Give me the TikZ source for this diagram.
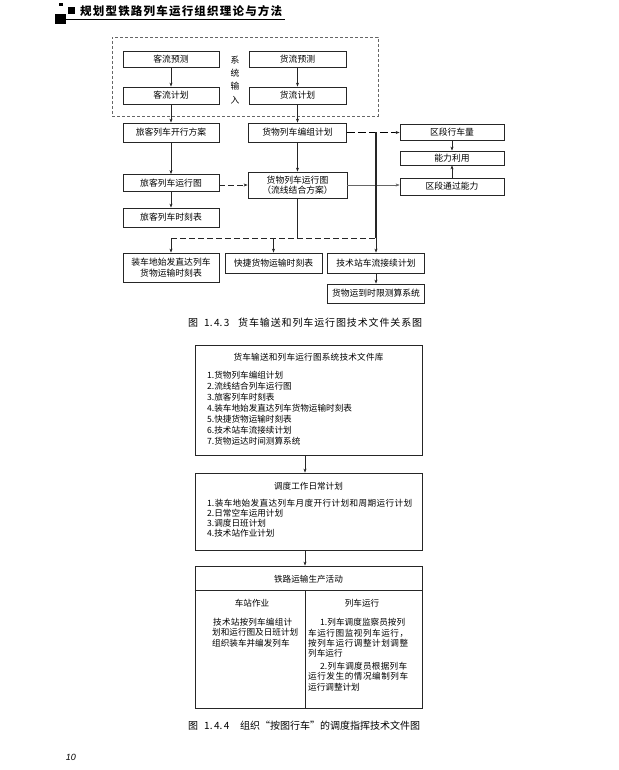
\documentclass[tikz,border=0pt]{standalone}
\usepackage{fontspec}
\setmainfont{Noto Sans CJK SC}
\newfontfamily\pnumfont{Liberation Sans}
\usetikzlibrary{arrows.meta}
\makeatletter
\newcommand\spread[2]{\hbox to #1{\@tfor\sp@tk:=#2\do{\sp@tk\hfil}\unskip}}
\makeatother
\begin{document}
\begin{tikzpicture}[x=1pt,y=-1pt,
  box/.style={draw=black!85, line width=0.8pt, inner sep=0pt, align=center,
    font=\fontsize{8.8}{10.5}\selectfont},
  bigbox/.style={draw=black!85, line width=0.8pt, inner sep=0pt, minimum width=227pt},
  txt/.style={inner sep=0pt, font=\fontsize{8.6}{10.5}\selectfont},
  ltxt/.style={txt, anchor=west},
  arr/.style={-{Stealth[length=4pt,width=3pt]}, line width=0.7pt, draw=black!85},
  plain/.style={line width=0.8pt, draw=black!85},
  dline/.style={line width=1pt, draw=black!85, dash pattern=on 6pt off 3pt},
  thickdash/.style={line width=1.7pt, draw=black, dash pattern=on 8pt off 3pt},
  thinline/.style={-{Stealth[length=4pt,width=3pt]}, line width=0.4pt, draw=black!60}
]
\useasboundingbox (0,0) rectangle (618,770);

% ---------- header ----------
\fill (59.3,2.7) rectangle (63.3,6.3);
\fill (67.7,7.3) rectangle (75,14);
\fill (55,14.3) rectangle (65.7,24);
\draw[line width=0.8pt] (65.7,19) -- (285,19);
\node (hdr) [anchor=west, inner sep=0pt, font=\fontsize{11.5}{12}\selectfont\bfseries]
  at (80,11) {\spread{202pt}{规划型铁路列车运行组织理论与方法}};

% ---------- figure 1.4.3 ----------
\node (sysin) [draw=black!60, line width=0.6pt, dash pattern=on 3pt off 2pt,
  minimum width=266pt, minimum height=79pt, inner sep=0pt] at (245,76.5) {};
\node (kyc) [box, minimum width=96pt, minimum height=16pt] at (171,59) {客流预测};
\node (kjh) [box, minimum width=96pt, minimum height=17pt] at (171,95.5) {客流计划};
\node (hyc) [box, minimum width=97pt, minimum height=16pt] at (297.5,59) {货流预测};
\node (hjh) [box, minimum width=97pt, minimum height=17pt] at (297.5,95.5) {货流计划};
\node (sys) [txt, align=center, font=\fontsize{8.8}{13.3}\selectfont] at (235,80) {系\\统\\输\\入};

\node (lkkx) [box, minimum width=96pt, minimum height=19pt] at (171,132.5) {旅客列车开行方案};
\node (hbz) [box, minimum width=98pt, minimum height=19pt] at (297.5,132.5) {货物列车编组计划};
\node (qdx) [box, minimum width=104pt, minimum height=16pt] at (452,132.5) {区段行车量};
\node (nl) [box, minimum width=104pt, minimum height=14pt] at (452,158) {能力利用};
\node (qdt) [box, minimum width=104pt, minimum height=17pt] at (452,186.5) {区段通过能力};
\node (lkyx) [box, minimum width=96pt, minimum height=17pt] at (171,183) {旅客列车运行图};
\node (hyx) [box, minimum width=99pt, minimum height=26pt] at (297.5,185) {货物列车运行图\\（流线结合方案）};
\node (lksk) [box, minimum width=96pt, minimum height=19pt] at (171,217.5) {旅客列车时刻表};

\node (zc) [box, minimum width=96pt, minimum height=29pt] at (171,267.5) {装车地始发直达列车\\货物运输时刻表};
\node (kj) [box, minimum width=97pt, minimum height=20pt] at (273.5,263) {快捷货物运输时刻表};
\node (js) [box, minimum width=97pt, minimum height=20pt] at (376,263) {技术站车流接续计划};
\node (hyd) [box, minimum width=97pt, minimum height=19pt] at (376,293.5) {货物运到时限测算系统};

\coordinate (jtop) at (376,132.5);
\coordinate (jbot) at (376,238);

\draw[arr] (kyc.south) -- (kjh.north);
\draw[arr] (hyc.south) -- (hjh.north);
\draw[arr] (kjh.south) -- (lkkx.north);
\draw[arr] (hjh.south) -- (hbz.north);
\draw[arr] (lkkx.south) -- (lkyx.north);
\draw[arr] (lkyx.south) -- (lksk.north);
\draw[arr] (hbz.south) -- (hyx.north);
\draw[dline, -{Stealth[length=4pt,width=3pt]}] (lkyx.east |- hyx.west) -- (hyx.west);
\draw[thickdash] (hbz.east) -- (qdx.west);
\draw[arr] ([xshift=-5pt]qdx.west) -- (qdx.west);
\draw[thinline] (hyx.east) -- (qdt.west |- hyx.east);
\draw[arr] (qdx.south) -- (nl.north);
\draw[arr] (qdt.north) -- (nl.south);
\draw[plain, line width=1.1pt] (jtop) -- (jbot);
\draw[plain, line width=1pt] (hyx.south) -- (hyx.south |- jbot);
\draw[dline] (zc.north |- jbot) -- (jbot);
\draw[arr] (zc.north |- jbot) -- (zc.north);
\draw[arr] (kj.north |- jbot) -- (kj.north);
\draw[arr] (jbot) -- (js.north);
\draw[arr] (js.south) -- (hyd.north);

\node (cap1) [anchor=west, inner sep=0pt, font=\fontsize{10}{12}\selectfont] at (188,323)
  {\hbox to 50pt{图\hskip 6pt 1.\hskip 1.5pt 4.\hskip 1.5pt 3\hfil}\spread{184pt}{货车输送和列车运行图技术文件关系图}};

% ---------- figure 1.4.4 ----------
\coordinate (ax) at (305,0);
\node (db1) [bigbox, minimum height=110pt] at (308.5,400) {};
\node (db1t) [txt] at (308.5,357) {\spread{150pt}{货车输送和列车运行图系统技术文件库}};
\node (l1) [ltxt] at (207,375) {1.货物列车编组计划};
\node (l2) [ltxt] at (207,386) {2.流线结合列车运行图};
\node (l3) [ltxt] at (207,397.5) {3.旅客列车时刻表};
\node (l4) [ltxt] at (207,408.5) {4.装车地始发直达列车货物运输时刻表};
\node (l5) [ltxt] at (207,419.5) {5.快捷货物运输时刻表};
\node (l6) [ltxt] at (207,430.5) {6.技术站车流接续计划};
\node (l7) [ltxt] at (207,441.5) {7.货物运达时间测算系统};

\node (db2) [bigbox, minimum height=77pt] at (308.5,511.5) {};
\node (db2t) [txt] at (308.5,486) {调度工作日常计划};
\node (m1) [ltxt] at (207,503) {\spread{205pt}{{1.}装车地始发直达列车月度开行计划和周期运行计划}};
\node (m2) [ltxt] at (207,513) {2.日常空车运用计划};
\node (m3) [ltxt] at (207,523) {3.调度日班计划};
\node (m4) [ltxt] at (207,533) {4.技术站作业计划};

\node (db3) [bigbox, minimum height=142pt] at (308.5,637) {};
\coordinate (hl) at (0,590);
\draw[plain] (db3.west |- hl) -- (db3.east |- hl);
\draw[plain] (ax |- hl) -- (db3.south -| ax);
\node (db3t) [txt] at (308.5,579) {铁路运输生产活动};
\node (czt) [txt] at (252,603) {车站作业};
\node (c1) [ltxt] at (213,622) {\spread{79pt}{技术站按列车编组计}};
\node (c2) [ltxt] at (212,632.5) {\spread{79pt}{划和运行图及日班计划}};
\node (c3) [ltxt] at (212,643) {组织装车并编发列车};
\node (lcy) [txt] at (362,603) {列车运行};
\node (r1) [ltxt] at (320,622) {\spread{85pt}{{1.}列车调度监察员按列}};
\node (r2) [ltxt] at (308,633) {\spread{100pt}{车运行图监视列车运行，}};
\node (r3) [ltxt] at (308,643) {\spread{100pt}{按列车运行调整计划调整}};
\node (r4) [ltxt] at (308,653.5) {列车运行};
\node (r5) [ltxt] at (320,666) {\spread{87pt}{{2.}列车调度员根据列车}};
\node (r6) [ltxt] at (308,676.5) {\spread{100pt}{运行发生的情况编制列车}};
\node (r7) [ltxt] at (308,687) {运行调整计划};

\draw[arr] (db1.south -| ax) -- (db2.north -| ax);
\draw[arr] (db2.south -| ax) -- (db3.north -| ax);

\node (cap2) [anchor=west, inner sep=0pt, font=\fontsize{10}{12}\selectfont] at (188,726)
  {\hbox to 52pt{图\hskip 6pt 1.\hskip 1.5pt 4.\hskip 1.5pt 4\hfil}\spread{175pt}{组织“按图行车”的调度指挥技术文件图}};

\node (pg) [inner sep=0pt, font=\pnumfont\itshape\fontsize{9}{10}\selectfont] at (71,757) {10};
\end{tikzpicture}
\end{document}
